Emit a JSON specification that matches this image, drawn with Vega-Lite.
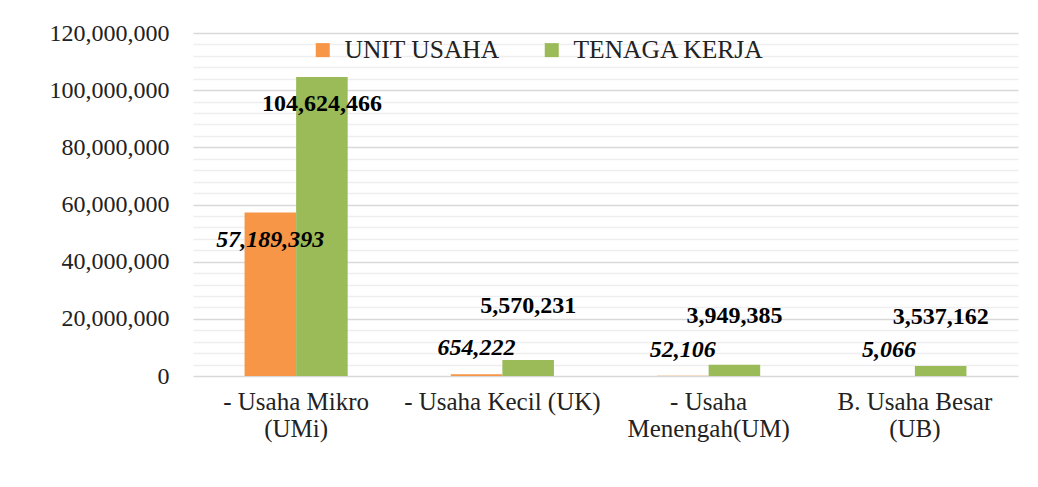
{
  "$schema": "https://vega.github.io/schema/vega-lite/v6.json",
  "width": 825,
  "height": 343,
  "autosize": "none",
  "padding": {"left": 193, "top": 33, "right": 20, "bottom": 111},
  "background": "white",
  "config": {"view": {"stroke": null}, "font": "Liberation Serif"},
  "data": {
    "values": [
      {"kategori": "- Usaha Mikro (UMi)", "seri": "UNIT USAHA", "nilai": 57189393},
      {"kategori": "- Usaha Mikro (UMi)", "seri": "TENAGA KERJA", "nilai": 104624466},
      {"kategori": "- Usaha Kecil (UK)", "seri": "UNIT USAHA", "nilai": 654222},
      {"kategori": "- Usaha Kecil (UK)", "seri": "TENAGA KERJA", "nilai": 5570231},
      {"kategori": "- Usaha Menengah(UM)", "seri": "UNIT USAHA", "nilai": 52106},
      {"kategori": "- Usaha Menengah(UM)", "seri": "TENAGA KERJA", "nilai": 3949385},
      {"kategori": "B. Usaha Besar (UB)", "seri": "UNIT USAHA", "nilai": 5066},
      {"kategori": "B. Usaha Besar (UB)", "seri": "TENAGA KERJA", "nilai": 3537162}
    ]
  },
  "encoding": {
    "x": {
      "field": "kategori", "type": "nominal", "sort": null,
      "scale": {"paddingInner": 0.5, "paddingOuter": 0.25},
      "axis": {
        "title": null, "domain": false, "ticks": false, "labelAngle": 0,
        "labelFontSize": 25, "labelPadding": 13, "labelLineHeight": 27,
        "labelColor": "#222222", "labelBaseline": "top", "labelLimit": 300,
        "labelExpr": "datum.label == '- Usaha Mikro (UMi)' ? ['- Usaha Mikro', '(UMi)'] : datum.label == '- Usaha Menengah(UM)' ? ['- Usaha', 'Menengah(UM)'] : datum.label == 'B. Usaha Besar (UB)' ? ['B. Usaha Besar', '(UB)'] : datum.label"
      }
    },
    "xOffset": {"field": "seri", "type": "nominal", "sort": ["UNIT USAHA", "TENAGA KERJA"]},
    "y": {
      "field": "nilai", "type": "quantitative",
      "scale": {"domain": [0, 120000000], "nice": false},
      "axis": {
        "title": null, "domain": false, "ticks": false,
        "values": [0, 4000000, 8000000, 12000000, 16000000, 20000000, 24000000, 28000000, 32000000, 36000000, 40000000, 44000000, 48000000, 52000000, 56000000, 60000000, 64000000, 68000000, 72000000, 76000000, 80000000, 84000000, 88000000, 92000000, 96000000, 100000000, 104000000, 108000000, 112000000, 116000000, 120000000],
        "labelExpr": "datum.value % 20000000 === 0 ? format(datum.value, ',') : ''",
        "labelFontSize": 24, "labelColor": "#222222", "labelPadding": 24,
        "gridColor": {"condition": {"test": "datum.value % 20000000 === 0", "value": "#d9d9d9"}, "value": "#eeeeee"},
        "gridWidth": 1.5
      }
    }
  },
  "layer": [
    {
      "mark": {"type": "bar"},
      "encoding": {
        "color": {
          "field": "seri", "type": "nominal",
          "scale": {"domain": ["UNIT USAHA", "TENAGA KERJA"], "range": ["#F79646", "#9BBB59"]},
          "legend": {
            "title": null, "orient": "none", "legendX": 117, "legendY": 4,
            "direction": "horizontal", "symbolType": "square", "symbolSize": 196,
            "labelFontSize": 25.5, "labelOffset": 9, "columnPadding": 39,
            "symbolStrokeWidth": 0, "padding": 0, "labelColor": "#222222", "labelLimit": 300
          }
        }
      }
    },
    {
      "transform": [{"filter": "datum.seri == 'UNIT USAHA' && datum.kategori == '- Usaha Mikro (UMi)'"}],
      "mark": {"type": "text", "dy": 27, "fontWeight": "bold", "fontStyle": "italic", "fontSize": 24, "baseline": "middle", "color": "#000000"},
      "encoding": {"text": {"field": "nilai", "type": "quantitative", "format": ","}}
    },
    {
      "transform": [{"filter": "datum.seri == 'UNIT USAHA' && datum.kategori != '- Usaha Mikro (UMi)'"}],
      "mark": {"type": "text", "dy": -26, "fontWeight": "bold", "fontStyle": "italic", "fontSize": 24, "baseline": "middle", "color": "#000000"},
      "encoding": {"text": {"field": "nilai", "type": "quantitative", "format": ","}}
    },
    {
      "transform": [{"filter": "datum.seri == 'TENAGA KERJA' && datum.kategori == '- Usaha Mikro (UMi)'"}],
      "mark": {"type": "text", "dy": 27, "fontWeight": "bold", "fontSize": 24, "baseline": "middle", "color": "#000000"},
      "encoding": {"text": {"field": "nilai", "type": "quantitative", "format": ","}}
    },
    {
      "transform": [{"filter": "datum.seri == 'TENAGA KERJA' && datum.kategori == '- Usaha Kecil (UK)'"}],
      "mark": {"type": "text", "dy": -54, "fontWeight": "bold", "fontSize": 24, "baseline": "middle", "color": "#000000"},
      "encoding": {"text": {"field": "nilai", "type": "quantitative", "format": ","}}
    },
    {
      "transform": [{"filter": "datum.seri == 'TENAGA KERJA' && datum.kategori != '- Usaha Kecil (UK)' && datum.kategori != '- Usaha Mikro (UMi)'"}],
      "mark": {"type": "text", "dy": -48.5, "fontWeight": "bold", "fontSize": 24, "baseline": "middle", "color": "#000000"},
      "encoding": {"text": {"field": "nilai", "type": "quantitative", "format": ","}}
    }
  ]
}
